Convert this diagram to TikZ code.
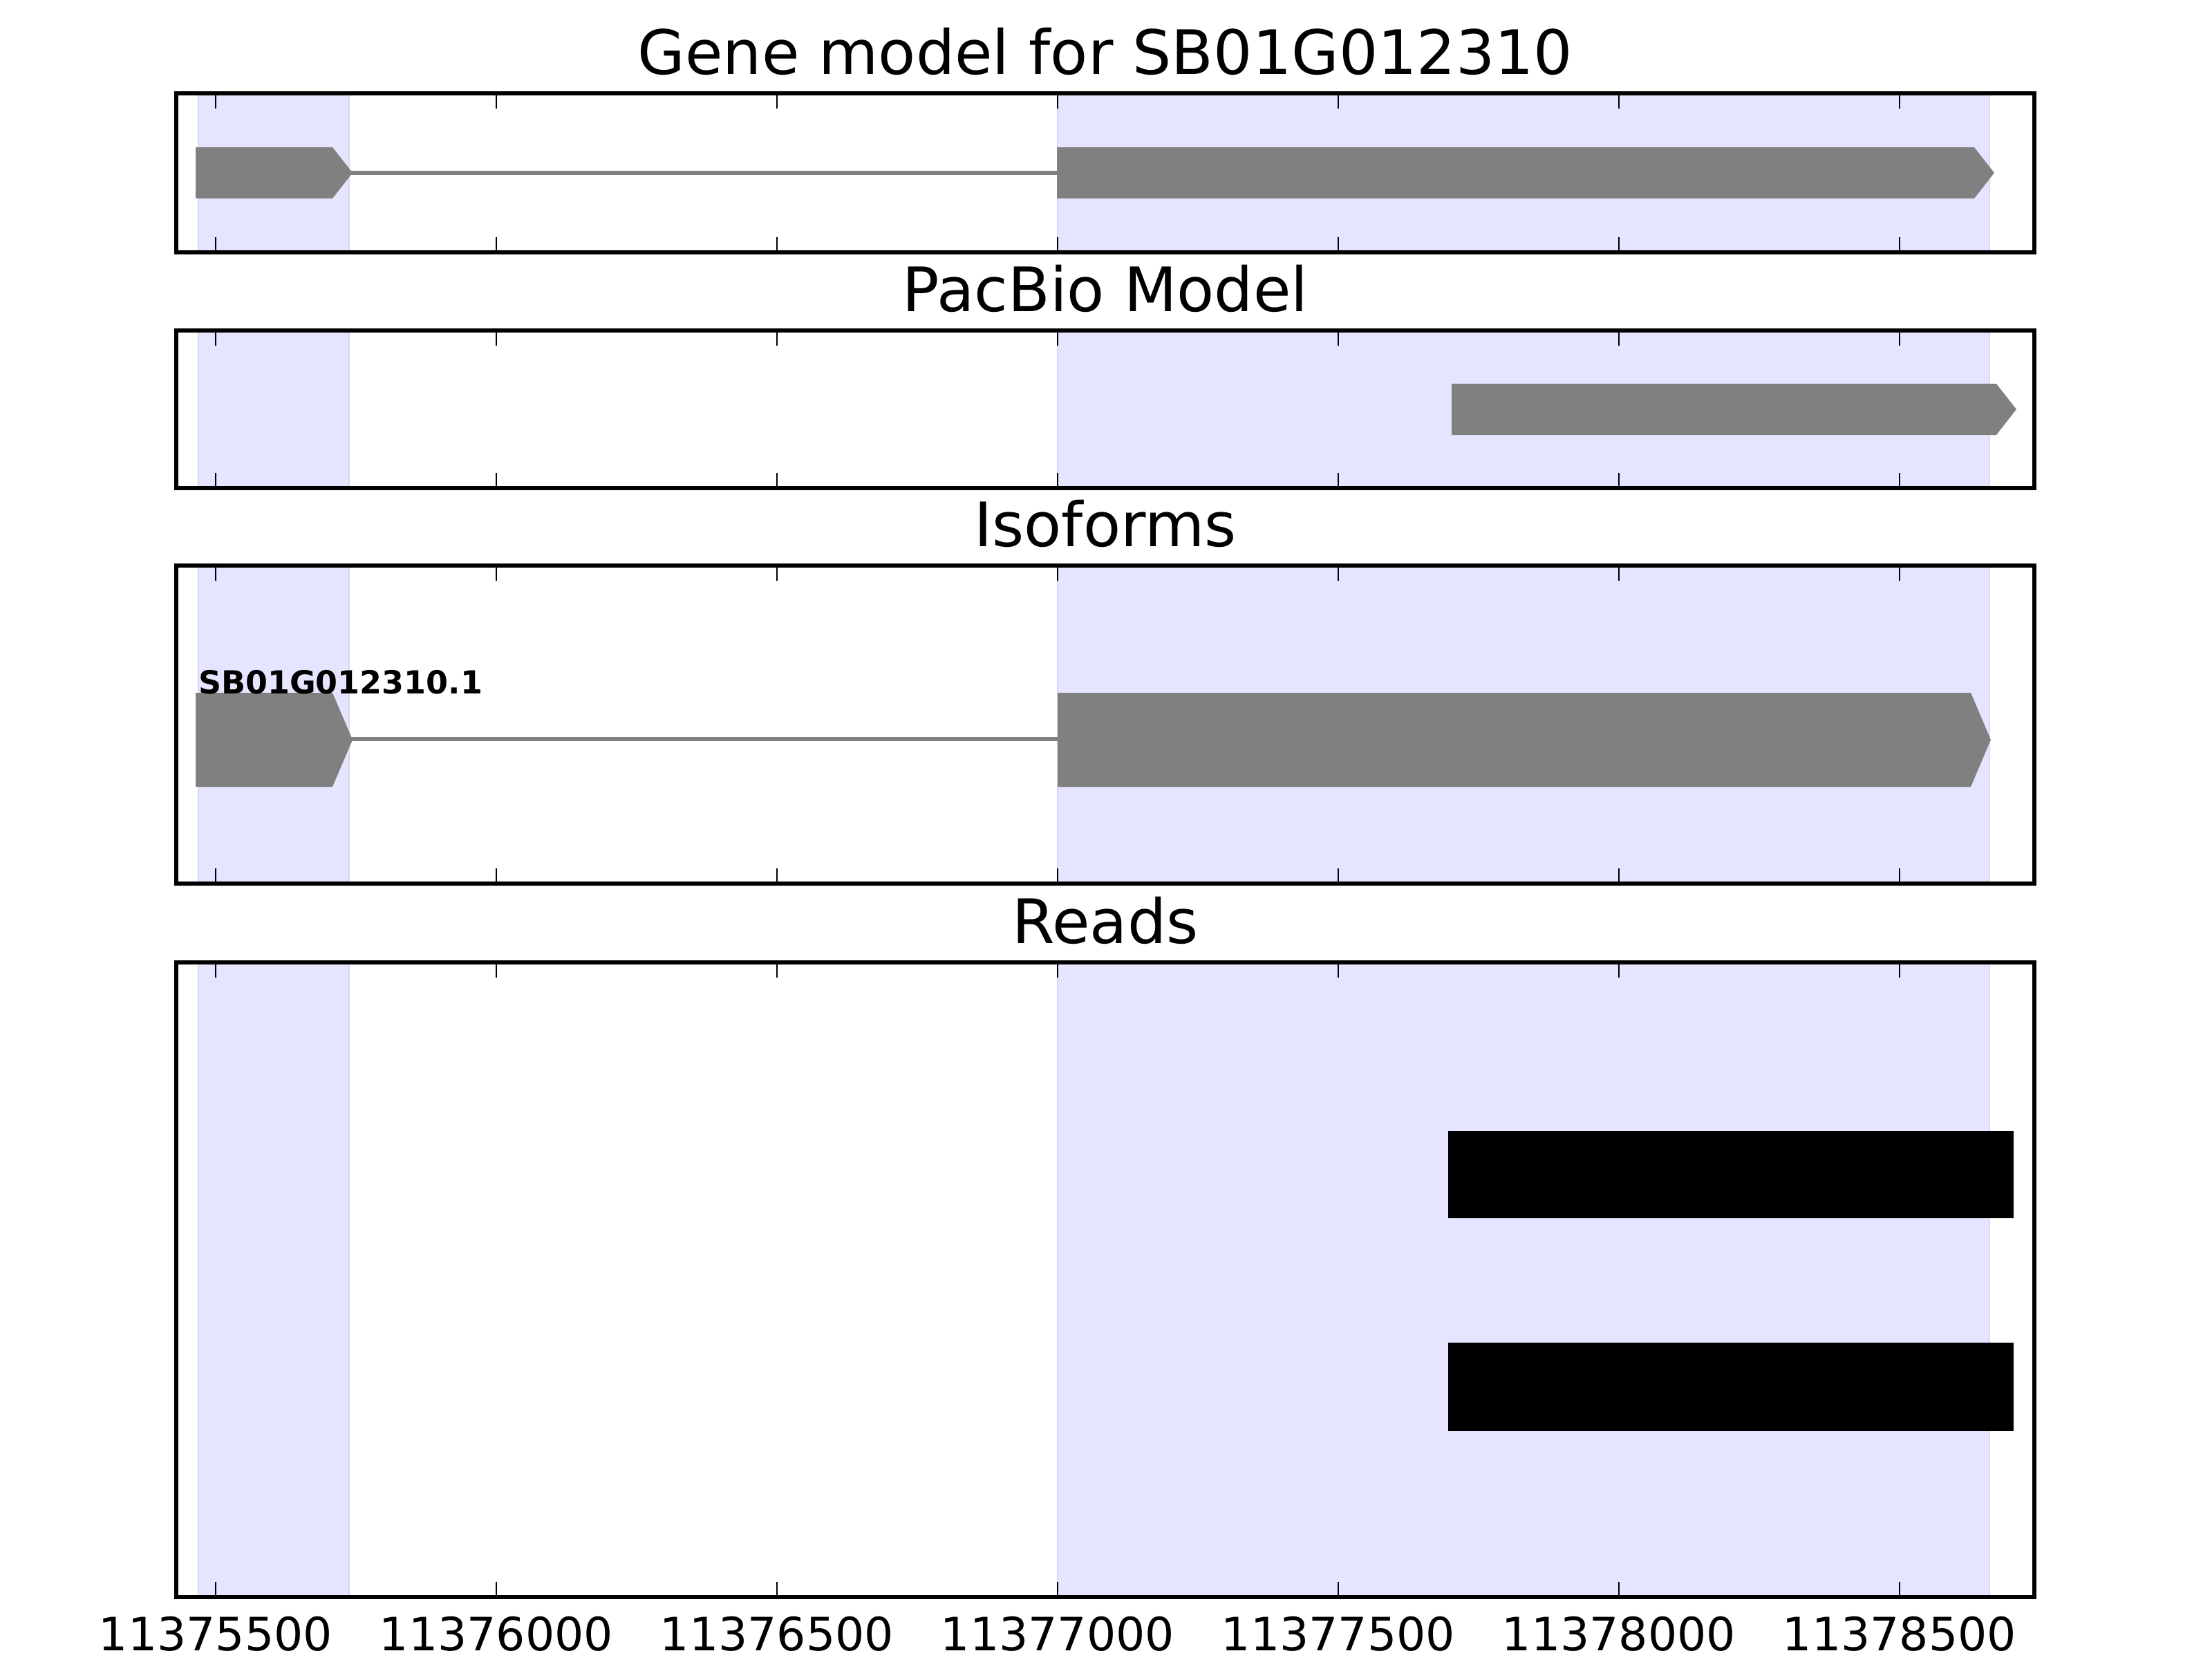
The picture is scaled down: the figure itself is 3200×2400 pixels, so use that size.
\documentclass[tikz,border=0pt]{standalone}
\usepackage{fontspec}
\setmainfont{DejaVu Sans}
\usepackage{tikz}
\usetikzlibrary{positioning}
\definecolor{exongray}{HTML}{808080}
\definecolor{spanfill}{HTML}{E5E5FF}
\definecolor{spanedge}{HTML}{D8D8F2}
\tikzset{
  frame/.style={draw=black, line width=1pt},
  spanbox/.style={fill=spanfill, draw=spanedge, line width=0.4pt},
  tickmark/.style={draw=black, line width=0.5pt},
  exonshape/.style={fill=exongray},
  intronline/.style={draw=exongray, line width=1pt},
  readbar/.style={fill=black},
  paneltitle/.style={anchor=base, inner sep=0pt, font=\fontsize{16}{19}\selectfont},
  ticklabel/.style={anchor=base, inner sep=0pt, font=\fontsize{12}{14}\selectfont},
  isolabel/.style={anchor=base west, inner sep=0pt, font=\fontsize{8.3}{10}\selectfont\bfseries},
}
% pentagon exon: start, tip, top, bottom
\newcommand{\exonarrow}[4]{%
  \fill[exonshape] (#1,#3) -- ({#2-29},#3) -- (#2,{(#3+#4)/2}) -- ({#2-29},#4) -- (#1,#4) -- cycle;}

\begin{document}
\begin{tikzpicture}[x=0.00635cm, y=-0.00635cm]
  \useasboundingbox (0,0) rectangle (3200,2400);

  % shaded exon spans
  \foreach \top/\bot in {135/365, 478/706, 818/1278, 1392/2310} {
    \draw[spanbox] (287,\top) rectangle (505,\bot);
    \draw[spanbox] (1530,\top) rectangle (2878,\bot);
  }

  % gene model
  \draw[intronline] (505,250) -- (1530,250);
  \exonarrow{283}{510}{213}{287}
  \exonarrow{1529}{2885}{213}{287}

  % pacbio model
  \exonarrow{2100}{2917}{555}{629}

  % isoforms
  \draw[intronline] (505,1069) -- (1530,1069);
  \exonarrow{283}{510}{1002}{1138}
  \exonarrow{1530}{2880}{1002}{1138}
  \node[isolabel] (iso1) at (286,1003) {SB01G012310.1};

  % reads
  \fill[readbar] (2095,1636) rectangle (2913,1762);
  \fill[readbar] (2095,1942) rectangle (2913,2070);

  % frames, ticks and titles
  \foreach \top/\bot/\name/\label in {135/365/gene/Gene model for SB01G012310,
      478/706/pacbio/PacBio Model, 818/1278/iso/Isoforms, 1392/2310/reads/Reads} {
    \foreach \x in {312,718,1124,1530,1936,2342,2748} {
      \draw[tickmark] (\x,\top) -- (\x,\top+22);
      \draw[tickmark] (\x,\bot) -- (\x,\bot-22);
    }
    \draw[frame] (255,\top) rectangle (2943,\bot);
    \node[paneltitle] (\name) at (1599,\top-28) {\label};
  }

  \foreach \x/\val in {312/11375500, 718/11376000, 1124/11376500, 1530/11377000,
      1936/11377500, 2342/11378000, 2748/11378500}
    \node[ticklabel] (tick\val) at (\x,2387) {\val};
\end{tikzpicture}
\end{document}
